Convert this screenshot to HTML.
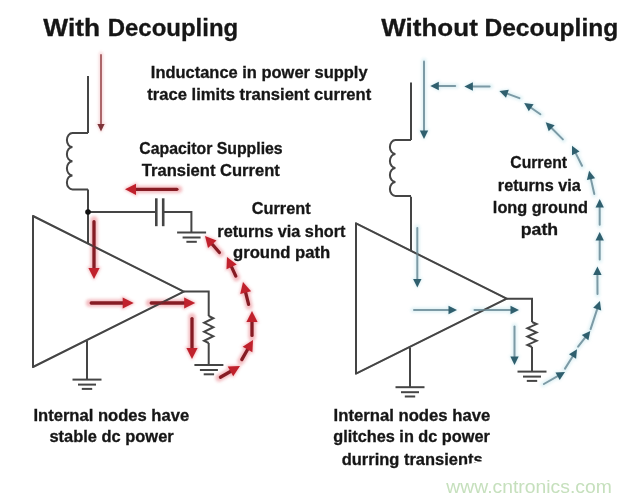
<!DOCTYPE html>
<html><head><meta charset="utf-8"><title>Decoupling</title>
<style>
html,body{margin:0;padding:0;background:#ffffff;width:630px;height:502px;overflow:hidden}
svg{display:block;filter:blur(0.35px)}
text{font-family:"Liberation Sans",sans-serif}
</style></head><body>
<svg width="630" height="502" viewBox="0 0 630 502">
<defs><filter id="blur" x="-20%" y="-20%" width="140%" height="140%"><feGaussianBlur stdDeviation="1.8"/></filter></defs>
<rect width="630" height="502" fill="#ffffff"/>
<g filter="url(#blur)" opacity="0.9">
<line x1="101.0" y1="54.0" x2="101.0" y2="124.0" stroke="#f6d6d8" stroke-width="4.3" stroke-linecap="round"/>
<polygon points="101.0,133.0 95.9,123.0 106.1,123.0" fill="#f6d6d8"/>
<line x1="178.6" y1="189.3" x2="136.0" y2="189.3" stroke="#f2b4b9" stroke-width="7.3" stroke-linecap="round"/>
<polygon points="123.5,189.3 137.0,182.2 137.0,196.4" fill="#f2b4b9"/>
<line x1="94.0" y1="220.0" x2="94.0" y2="268.0" stroke="#f2b4b9" stroke-width="7.3" stroke-linecap="round"/>
<polygon points="94.0,280.5 86.9,267.0 101.1,267.0" fill="#f2b4b9"/>
<line x1="89.5" y1="303.0" x2="122.7" y2="303.0" stroke="#f2b4b9" stroke-width="7.3" stroke-linecap="round"/>
<polygon points="135.2,303.0 121.7,310.1 121.7,295.9" fill="#f2b4b9"/>
<line x1="149.5" y1="303.0" x2="184.2" y2="303.0" stroke="#f2b4b9" stroke-width="7.3" stroke-linecap="round"/>
<polygon points="196.7,303.0 183.2,310.1 183.2,295.9" fill="#f2b4b9"/>
<line x1="192.0" y1="317.0" x2="192.0" y2="348.0" stroke="#f2b4b9" stroke-width="7.3" stroke-linecap="round"/>
<polygon points="192.0,360.5 184.9,347.0 199.1,347.0" fill="#f2b4b9"/>
<line x1="219.0" y1="378.0" x2="230.4" y2="371.5" stroke="#f2b4b9" stroke-width="7.3" stroke-linecap="round"/>
<polygon points="241.3,365.3 233.1,378.1 226.1,365.8" fill="#f2b4b9"/>
<line x1="241.0" y1="361.0" x2="247.5" y2="349.6" stroke="#f2b4b9" stroke-width="7.3" stroke-linecap="round"/>
<polygon points="253.7,338.7 253.2,353.9 240.9,346.9" fill="#f2b4b9"/>
<line x1="252.0" y1="337.0" x2="252.0" y2="322.0" stroke="#f2b4b9" stroke-width="7.3" stroke-linecap="round"/>
<polygon points="252.0,309.5 259.1,323.0 244.9,323.0" fill="#f2b4b9"/>
<line x1="249.0" y1="306.0" x2="245.7" y2="292.7" stroke="#f2b4b9" stroke-width="7.3" stroke-linecap="round"/>
<polygon points="242.6,280.5 252.8,291.9 239.0,295.4" fill="#f2b4b9"/>
<line x1="236.5" y1="277.6" x2="231.6" y2="267.0" stroke="#f2b4b9" stroke-width="7.3" stroke-linecap="round"/>
<polygon points="226.4,255.6 238.5,264.9 225.6,270.9" fill="#f2b4b9"/>
<line x1="220.5" y1="253.7" x2="212.2" y2="244.3" stroke="#f2b4b9" stroke-width="7.3" stroke-linecap="round"/>
<polygon points="204.0,234.9 218.2,240.4 207.6,249.7" fill="#f2b4b9"/>
<line x1="424.0" y1="60.5" x2="424.0" y2="130.5" stroke="#dcf0f4" stroke-width="5" stroke-linecap="round"/>
<polygon points="424.0,140.5 418.3,129.5 429.7,129.5" fill="#dcf0f4"/>
<line x1="417.3" y1="227.0" x2="417.3" y2="279.0" stroke="#dcf0f4" stroke-width="5" stroke-linecap="round"/>
<polygon points="417.3,289.0 411.6,278.0 423.0,278.0" fill="#dcf0f4"/>
<line x1="413.0" y1="310.0" x2="448.5" y2="310.0" stroke="#dcf0f4" stroke-width="5" stroke-linecap="round"/>
<polygon points="458.5,310.0 447.5,315.7 447.5,304.3" fill="#dcf0f4"/>
<line x1="473.5" y1="310.0" x2="510.5" y2="310.0" stroke="#dcf0f4" stroke-width="5" stroke-linecap="round"/>
<polygon points="520.5,310.0 509.5,315.7 509.5,304.3" fill="#dcf0f4"/>
<line x1="514.5" y1="325.5" x2="514.5" y2="356.5" stroke="#dcf0f4" stroke-width="5" stroke-linecap="round"/>
<polygon points="514.5,366.5 508.8,355.5 520.2,355.5" fill="#dcf0f4"/>
<line x1="456.2" y1="86.0" x2="438.8" y2="86.0" stroke="#dcf0f4" stroke-width="5" stroke-linecap="round"/>
<polygon points="428.8,86.0 439.8,80.3 439.8,91.7" fill="#dcf0f4"/>
<line x1="490.6" y1="86.5" x2="472.9" y2="86.5" stroke="#dcf0f4" stroke-width="5" stroke-linecap="round"/>
<polygon points="462.9,86.5 473.9,80.8 473.9,92.2" fill="#dcf0f4"/>
<line x1="520.3" y1="98.4" x2="507.4" y2="93.8" stroke="#dcf0f4" stroke-width="5" stroke-linecap="round"/>
<polygon points="498.0,90.4 510.3,88.7 506.4,99.5" fill="#dcf0f4"/>
<line x1="541.2" y1="114.8" x2="531.2" y2="107.8" stroke="#dcf0f4" stroke-width="5" stroke-linecap="round"/>
<polygon points="523.0,102.0 535.3,103.7 528.7,113.0" fill="#dcf0f4"/>
<line x1="563.6" y1="140.1" x2="551.7" y2="128.2" stroke="#dcf0f4" stroke-width="5" stroke-linecap="round"/>
<polygon points="544.6,121.1 556.4,124.9 548.4,132.9" fill="#dcf0f4"/>
<line x1="582.4" y1="166.7" x2="575.8" y2="153.3" stroke="#dcf0f4" stroke-width="5" stroke-linecap="round"/>
<polygon points="571.3,144.4 581.3,151.7 571.1,156.7" fill="#dcf0f4"/>
<line x1="594.5" y1="195.0" x2="591.0" y2="179.1" stroke="#dcf0f4" stroke-width="5" stroke-linecap="round"/>
<polygon points="588.8,169.3 596.7,178.8 585.6,181.3" fill="#dcf0f4"/>
<line x1="599.7" y1="225.8" x2="599.7" y2="207.5" stroke="#dcf0f4" stroke-width="5" stroke-linecap="round"/>
<polygon points="599.7,197.5 605.4,208.5 594.0,208.5" fill="#dcf0f4"/>
<line x1="599.7" y1="260.5" x2="599.7" y2="240.5" stroke="#dcf0f4" stroke-width="5" stroke-linecap="round"/>
<polygon points="599.7,230.5 605.4,241.5 594.0,241.5" fill="#dcf0f4"/>
<line x1="597.5" y1="295.0" x2="597.4" y2="275.0" stroke="#dcf0f4" stroke-width="5" stroke-linecap="round"/>
<polygon points="597.4,265.0 603.1,276.0 591.7,276.0" fill="#dcf0f4"/>
<line x1="590.3" y1="330.0" x2="597.2" y2="309.1" stroke="#dcf0f4" stroke-width="5" stroke-linecap="round"/>
<polygon points="600.4,299.6 602.3,311.8 591.5,308.2" fill="#dcf0f4"/>
<line x1="577.5" y1="347.5" x2="585.1" y2="337.7" stroke="#dcf0f4" stroke-width="5" stroke-linecap="round"/>
<polygon points="591.2,329.8 589.0,342.0 580.0,335.0" fill="#dcf0f4"/>
<line x1="564.5" y1="369.5" x2="572.5" y2="356.5" stroke="#dcf0f4" stroke-width="5" stroke-linecap="round"/>
<polygon points="577.8,348.0 576.8,360.4 567.2,354.4" fill="#dcf0f4"/>
<line x1="543.0" y1="384.5" x2="557.6" y2="376.2" stroke="#dcf0f4" stroke-width="5" stroke-linecap="round"/>
<polygon points="566.3,371.3 559.6,381.6 553.9,371.7" fill="#dcf0f4"/>
</g>
<line x1="88" y1="76" x2="88" y2="133" stroke="#454545" stroke-width="2"/>
<path d="M88,133 L72.5,133 A5.6,7.06 0 0 0 72.5,147.12 A5.6,7.06 0 0 0 72.5,161.25 A5.6,7.06 0 0 0 72.5,175.38 A5.6,7.06 0 0 0 72.5,189.50 L88,189.5" fill="none" stroke="#454545" stroke-width="2"/>
<line x1="88" y1="189.5" x2="88" y2="244" stroke="#454545" stroke-width="2"/>
<line x1="88" y1="212" x2="156.3" y2="212" stroke="#454545" stroke-width="2"/>
<line x1="156.3" y1="198.3" x2="156.3" y2="226.2" stroke="#454545" stroke-width="2.6"/>
<line x1="163.2" y1="198.3" x2="163.2" y2="226.2" stroke="#454545" stroke-width="2.6"/>
<polyline points="163.2,212.0 191.4,212.0 191.4,232.5" fill="none" stroke="#454545" stroke-width="2" stroke-linejoin="miter"/>
<line x1="177.1" y1="232.5" x2="206.1" y2="232.5" stroke="#454545" stroke-width="2"/>
<line x1="182.6" y1="237.5" x2="200.6" y2="237.5" stroke="#454545" stroke-width="2"/>
<line x1="186.4" y1="241.8" x2="196.79999999999998" y2="241.8" stroke="#454545" stroke-width="2"/>
<circle cx="88" cy="212" r="2.8" fill="#111"/>
<polygon points="33,216 183.8,291.6 33,367" fill="none" stroke="#454545" stroke-width="2" stroke-linejoin="round"/>
<polyline points="184.0,291.6 208.7,291.6 208.7,316.0" fill="none" stroke="#454545" stroke-width="2" stroke-linejoin="miter"/>
<polyline points="208.7,316.0 213.3,318.2 204.1,322.8 213.3,327.2 204.1,331.8 213.3,336.2 204.1,340.8 208.7,343.0" fill="none" stroke="#454545" stroke-width="2" stroke-linejoin="miter"/>
<line x1="208.7" y1="343" x2="208.7" y2="365" stroke="#454545" stroke-width="2"/>
<line x1="194.4" y1="365" x2="223.4" y2="365" stroke="#454545" stroke-width="2"/>
<line x1="199.9" y1="370" x2="217.9" y2="370" stroke="#454545" stroke-width="2"/>
<line x1="203.70000000000002" y1="374.3" x2="214.1" y2="374.3" stroke="#454545" stroke-width="2"/>
<line x1="87" y1="341" x2="87" y2="379.6" stroke="#454545" stroke-width="2"/>
<line x1="72.5" y1="379.6" x2="101.5" y2="379.6" stroke="#454545" stroke-width="2"/>
<line x1="78" y1="384.6" x2="96" y2="384.6" stroke="#454545" stroke-width="2"/>
<line x1="81.8" y1="388.90000000000003" x2="92.2" y2="388.90000000000003" stroke="#454545" stroke-width="2"/>
<line x1="411" y1="82.5" x2="411" y2="140" stroke="#454545" stroke-width="2"/>
<path d="M411,140 L395.5,140 A5.6,7.00 0 0 0 395.5,154.00 A5.6,7.00 0 0 0 395.5,168.00 A5.6,7.00 0 0 0 395.5,182.00 A5.6,7.00 0 0 0 395.5,196.00 L411,196" fill="none" stroke="#454545" stroke-width="2"/>
<line x1="411" y1="196.7" x2="411" y2="250" stroke="#454545" stroke-width="2"/>
<polygon points="356,223.3 506.7,298.7 356,373.6" fill="none" stroke="#454545" stroke-width="2" stroke-linejoin="round"/>
<polyline points="506.7,298.7 532.0,298.7 532.0,322.0" fill="none" stroke="#454545" stroke-width="2" stroke-linejoin="miter"/>
<polyline points="532.0,322.0 536.6,324.1 527.4,328.2 536.6,332.4 527.4,336.6 536.6,340.8 527.4,344.9 532.0,347.0" fill="none" stroke="#454545" stroke-width="2" stroke-linejoin="miter"/>
<line x1="532" y1="347" x2="532" y2="371.6" stroke="#454545" stroke-width="2"/>
<line x1="517.5" y1="371.6" x2="546.5" y2="371.6" stroke="#454545" stroke-width="2"/>
<line x1="523" y1="376.6" x2="541" y2="376.6" stroke="#454545" stroke-width="2"/>
<line x1="526.8" y1="380.90000000000003" x2="537.2" y2="380.90000000000003" stroke="#454545" stroke-width="2"/>
<line x1="410" y1="347.5" x2="410" y2="387.2" stroke="#454545" stroke-width="2"/>
<line x1="395.5" y1="387.2" x2="424.5" y2="387.2" stroke="#454545" stroke-width="2"/>
<line x1="401" y1="392.2" x2="419" y2="392.2" stroke="#454545" stroke-width="2"/>
<line x1="404.8" y1="396.5" x2="415.2" y2="396.5" stroke="#454545" stroke-width="2"/>
<line x1="101.0" y1="54.9" x2="101.0" y2="125.0" stroke="#a45a5e" stroke-width="1.8" stroke-linecap="round"/>
<polygon points="101.0,131.5 97.4,124.0 104.6,124.0" fill="#7e3439"/>
<line x1="176.9" y1="189.3" x2="135.0" y2="189.3" stroke="#861c24" stroke-width="3.3" stroke-linecap="round"/>
<polygon points="125.0,189.3 136.0,183.7 136.0,194.9" fill="#c0212c"/>
<line x1="94.0" y1="221.7" x2="94.0" y2="269.0" stroke="#861c24" stroke-width="3.3" stroke-linecap="round"/>
<polygon points="94.0,279.0 88.4,268.0 99.6,268.0" fill="#c0212c"/>
<line x1="91.2" y1="303.0" x2="123.7" y2="303.0" stroke="#861c24" stroke-width="3.3" stroke-linecap="round"/>
<polygon points="133.7,303.0 122.7,308.6 122.7,297.4" fill="#c0212c"/>
<line x1="151.2" y1="303.0" x2="185.2" y2="303.0" stroke="#861c24" stroke-width="3.3" stroke-linecap="round"/>
<polygon points="195.2,303.0 184.2,308.6 184.2,297.4" fill="#c0212c"/>
<line x1="192.0" y1="318.6" x2="192.0" y2="349.0" stroke="#861c24" stroke-width="3.3" stroke-linecap="round"/>
<polygon points="192.0,359.0 186.4,348.0 197.6,348.0" fill="#c0212c"/>
<line x1="220.4" y1="377.2" x2="231.3" y2="371.0" stroke="#861c24" stroke-width="3.3" stroke-linecap="round"/>
<polygon points="240.0,366.0 233.2,376.3 227.7,366.6" fill="#c0212c"/>
<line x1="241.8" y1="359.6" x2="248.0" y2="348.7" stroke="#861c24" stroke-width="3.3" stroke-linecap="round"/>
<polygon points="253.0,340.0 252.4,352.3 242.7,346.8" fill="#c0212c"/>
<line x1="252.0" y1="335.4" x2="252.0" y2="321.0" stroke="#861c24" stroke-width="3.3" stroke-linecap="round"/>
<polygon points="252.0,311.0 257.6,322.0 246.4,322.0" fill="#c0212c"/>
<line x1="248.6" y1="304.4" x2="245.4" y2="291.7" stroke="#861c24" stroke-width="3.3" stroke-linecap="round"/>
<polygon points="243.0,282.0 251.1,291.3 240.2,294.0" fill="#c0212c"/>
<line x1="235.8" y1="276.1" x2="231.2" y2="266.1" stroke="#861c24" stroke-width="3.3" stroke-linecap="round"/>
<polygon points="227.0,257.0 236.7,264.6 226.5,269.3" fill="#c0212c"/>
<line x1="219.4" y1="252.5" x2="211.6" y2="243.5" stroke="#861c24" stroke-width="3.3" stroke-linecap="round"/>
<polygon points="205.0,236.0 216.5,240.6 208.0,248.0" fill="#c0212c"/>
<line x1="424.0" y1="61.5" x2="424.0" y2="131.5" stroke="#7c9aa5" stroke-width="2" stroke-linecap="round"/>
<polygon points="424.0,139.0 419.8,130.5 428.2,130.5" fill="#2f5f6e"/>
<line x1="417.3" y1="228.0" x2="417.3" y2="280.0" stroke="#7c9aa5" stroke-width="2" stroke-linecap="round"/>
<polygon points="417.3,287.5 413.1,279.0 421.5,279.0" fill="#2f5f6e"/>
<line x1="414.0" y1="310.0" x2="449.5" y2="310.0" stroke="#7c9aa5" stroke-width="2" stroke-linecap="round"/>
<polygon points="457.0,310.0 448.5,314.2 448.5,305.8" fill="#2f5f6e"/>
<line x1="474.5" y1="310.0" x2="511.5" y2="310.0" stroke="#7c9aa5" stroke-width="2" stroke-linecap="round"/>
<polygon points="519.0,310.0 510.5,314.2 510.5,305.8" fill="#2f5f6e"/>
<line x1="514.5" y1="326.5" x2="514.5" y2="357.5" stroke="#7c9aa5" stroke-width="2" stroke-linecap="round"/>
<polygon points="514.5,365.0 510.3,356.5 518.7,356.5" fill="#2f5f6e"/>
<line x1="455.2" y1="86.0" x2="437.8" y2="86.0" stroke="#7c9aa5" stroke-width="2" stroke-linecap="round"/>
<polygon points="430.3,86.0 438.8,81.8 438.8,90.2" fill="#2f5f6e"/>
<line x1="489.6" y1="86.5" x2="471.9" y2="86.5" stroke="#7c9aa5" stroke-width="2" stroke-linecap="round"/>
<polygon points="464.4,86.5 472.9,82.3 472.9,90.7" fill="#2f5f6e"/>
<line x1="519.4" y1="98.1" x2="506.5" y2="93.4" stroke="#7c9aa5" stroke-width="2" stroke-linecap="round"/>
<polygon points="499.4,90.9 508.8,89.8 506.0,97.7" fill="#2f5f6e"/>
<line x1="540.4" y1="114.2" x2="530.3" y2="107.2" stroke="#7c9aa5" stroke-width="2" stroke-linecap="round"/>
<polygon points="524.2,102.9 533.6,104.3 528.8,111.2" fill="#2f5f6e"/>
<line x1="562.9" y1="139.4" x2="551.0" y2="127.5" stroke="#7c9aa5" stroke-width="2" stroke-linecap="round"/>
<polygon points="545.7,122.2 554.7,125.2 548.7,131.2" fill="#2f5f6e"/>
<line x1="582.0" y1="165.8" x2="575.3" y2="152.4" stroke="#7c9aa5" stroke-width="2" stroke-linecap="round"/>
<polygon points="572.0,145.7 579.5,151.5 572.0,155.2" fill="#2f5f6e"/>
<line x1="594.3" y1="194.0" x2="590.7" y2="178.1" stroke="#7c9aa5" stroke-width="2" stroke-linecap="round"/>
<polygon points="589.1,170.8 595.1,178.2 586.9,180.0" fill="#2f5f6e"/>
<line x1="599.7" y1="224.8" x2="599.7" y2="206.5" stroke="#7c9aa5" stroke-width="2" stroke-linecap="round"/>
<polygon points="599.7,199.0 603.9,207.5 595.5,207.5" fill="#2f5f6e"/>
<line x1="599.7" y1="259.5" x2="599.7" y2="239.5" stroke="#7c9aa5" stroke-width="2" stroke-linecap="round"/>
<polygon points="599.7,232.0 603.9,240.5 595.5,240.5" fill="#2f5f6e"/>
<line x1="597.5" y1="294.0" x2="597.4" y2="274.0" stroke="#7c9aa5" stroke-width="2" stroke-linecap="round"/>
<polygon points="597.4,266.5 601.6,275.0 593.2,275.0" fill="#2f5f6e"/>
<line x1="590.6" y1="329.1" x2="597.5" y2="308.1" stroke="#7c9aa5" stroke-width="2" stroke-linecap="round"/>
<polygon points="599.9,301.0 601.2,310.4 593.2,307.7" fill="#2f5f6e"/>
<line x1="578.1" y1="346.7" x2="585.7" y2="336.9" stroke="#7c9aa5" stroke-width="2" stroke-linecap="round"/>
<polygon points="590.3,331.0 588.4,340.3 581.8,335.1" fill="#2f5f6e"/>
<line x1="565.0" y1="368.6" x2="573.1" y2="355.7" stroke="#7c9aa5" stroke-width="2" stroke-linecap="round"/>
<polygon points="577.0,349.3 576.1,358.7 569.0,354.3" fill="#2f5f6e"/>
<line x1="543.9" y1="384.0" x2="558.5" y2="375.7" stroke="#7c9aa5" stroke-width="2" stroke-linecap="round"/>
<polygon points="565.0,372.0 559.7,379.9 555.5,372.5" fill="#2f5f6e"/>
<polygon points="33,216 183.8,291.6 33,367" fill="none" stroke="#454545" stroke-width="1.6" opacity="0.45"/>
<polygon points="356,223.3 506.7,298.7 356,373.6" fill="none" stroke="#454545" stroke-width="1.6" opacity="0.45"/>
<text x="43.30" y="36" font-size="23.5" textLength="56.83" lengthAdjust="spacingAndGlyphs" fill="#161616" stroke="#161616" stroke-width="0.3" font-weight="bold">With</text>
<text x="107.74" y="36" font-size="23.5" textLength="130.50" lengthAdjust="spacingAndGlyphs" fill="#161616" stroke="#161616" stroke-width="0.3" font-weight="bold">Decoupling</text>
<text x="381.30" y="36" font-size="23.5" textLength="96.50" lengthAdjust="spacingAndGlyphs" fill="#161616" stroke="#161616" stroke-width="0.3" font-weight="bold">Without</text>
<text x="484.40" y="36" font-size="23.5" textLength="133.88" lengthAdjust="spacingAndGlyphs" fill="#161616" stroke="#161616" stroke-width="0.3" font-weight="bold">Decoupling</text>
<text x="150.83" y="78.2" font-size="16" textLength="216.73" lengthAdjust="spacingAndGlyphs" fill="#161616" stroke="#161616" stroke-width="0.3" font-weight="bold">Inductance in power supply</text>
<text x="147.33" y="100.4" font-size="16" textLength="223.91" lengthAdjust="spacingAndGlyphs" fill="#161616" stroke="#161616" stroke-width="0.3" font-weight="bold">trace limits transient current</text>
<text x="139.37" y="154" font-size="16" textLength="143.31" lengthAdjust="spacingAndGlyphs" fill="#161616" stroke="#161616" stroke-width="0.3" font-weight="bold">Capacitor Supplies</text>
<text x="141.83" y="175.6" font-size="16" textLength="137.92" lengthAdjust="spacingAndGlyphs" fill="#161616" stroke="#161616" stroke-width="0.3" font-weight="bold">Transient Current</text>
<text x="251.85" y="213.8" font-size="16" textLength="58.74" lengthAdjust="spacingAndGlyphs" fill="#161616" stroke="#161616" stroke-width="0.3" font-weight="bold">Current</text>
<text x="217.34" y="236.6" font-size="16" textLength="128.14" lengthAdjust="spacingAndGlyphs" fill="#161616" stroke="#161616" stroke-width="0.3" font-weight="bold">returns via short</text>
<text x="233.03" y="258.2" font-size="16" textLength="97.20" lengthAdjust="spacingAndGlyphs" fill="#161616" stroke="#161616" stroke-width="0.3" font-weight="bold">ground path</text>
<text x="510.27" y="168" font-size="16" textLength="56.81" lengthAdjust="spacingAndGlyphs" fill="#161616" stroke="#161616" stroke-width="0.3" font-weight="bold">Current</text>
<text x="497.85" y="191" font-size="16" textLength="82.85" lengthAdjust="spacingAndGlyphs" fill="#161616" stroke="#161616" stroke-width="0.3" font-weight="bold">returns via</text>
<text x="492.86" y="212.9" font-size="16" textLength="95.03" lengthAdjust="spacingAndGlyphs" fill="#161616" stroke="#161616" stroke-width="0.3" font-weight="bold">long ground</text>
<text x="520.75" y="235.4" font-size="16" textLength="37.33" lengthAdjust="spacingAndGlyphs" fill="#161616" stroke="#161616" stroke-width="0.3" font-weight="bold">path</text>
<text x="33.42" y="420.8" font-size="16" textLength="155.69" lengthAdjust="spacingAndGlyphs" fill="#161616" stroke="#161616" stroke-width="0.3" font-weight="bold">Internal nodes have</text>
<text x="49.42" y="442.2" font-size="16" textLength="124.28" lengthAdjust="spacingAndGlyphs" fill="#161616" stroke="#161616" stroke-width="0.3" font-weight="bold">stable dc power</text>
<text x="333.62" y="420.6" font-size="16" textLength="156.60" lengthAdjust="spacingAndGlyphs" fill="#161616" stroke="#161616" stroke-width="0.3" font-weight="bold">Internal nodes have</text>
<text x="333.35" y="442.3" font-size="16" textLength="156.46" lengthAdjust="spacingAndGlyphs" fill="#161616" stroke="#161616" stroke-width="0.3" font-weight="bold">glitches in dc power</text>
<text x="341.74" y="465.2" font-size="16" textLength="140.85" lengthAdjust="spacingAndGlyphs" fill="#161616" stroke="#161616" stroke-width="0.3" font-weight="bold">durring transients</text>
<polygon points="447,469 456,466 468,464 476,462.3 486,460.5 630,460.5 630,502 330,502 330,469" fill="#ffffff"/>
<text x="446.30" y="493" font-size="18.5" textLength="165.51" lengthAdjust="spacingAndGlyphs" fill="#c6e0bd"  font-weight="normal">www.cntronics.com</text>
</svg>
</body></html>
